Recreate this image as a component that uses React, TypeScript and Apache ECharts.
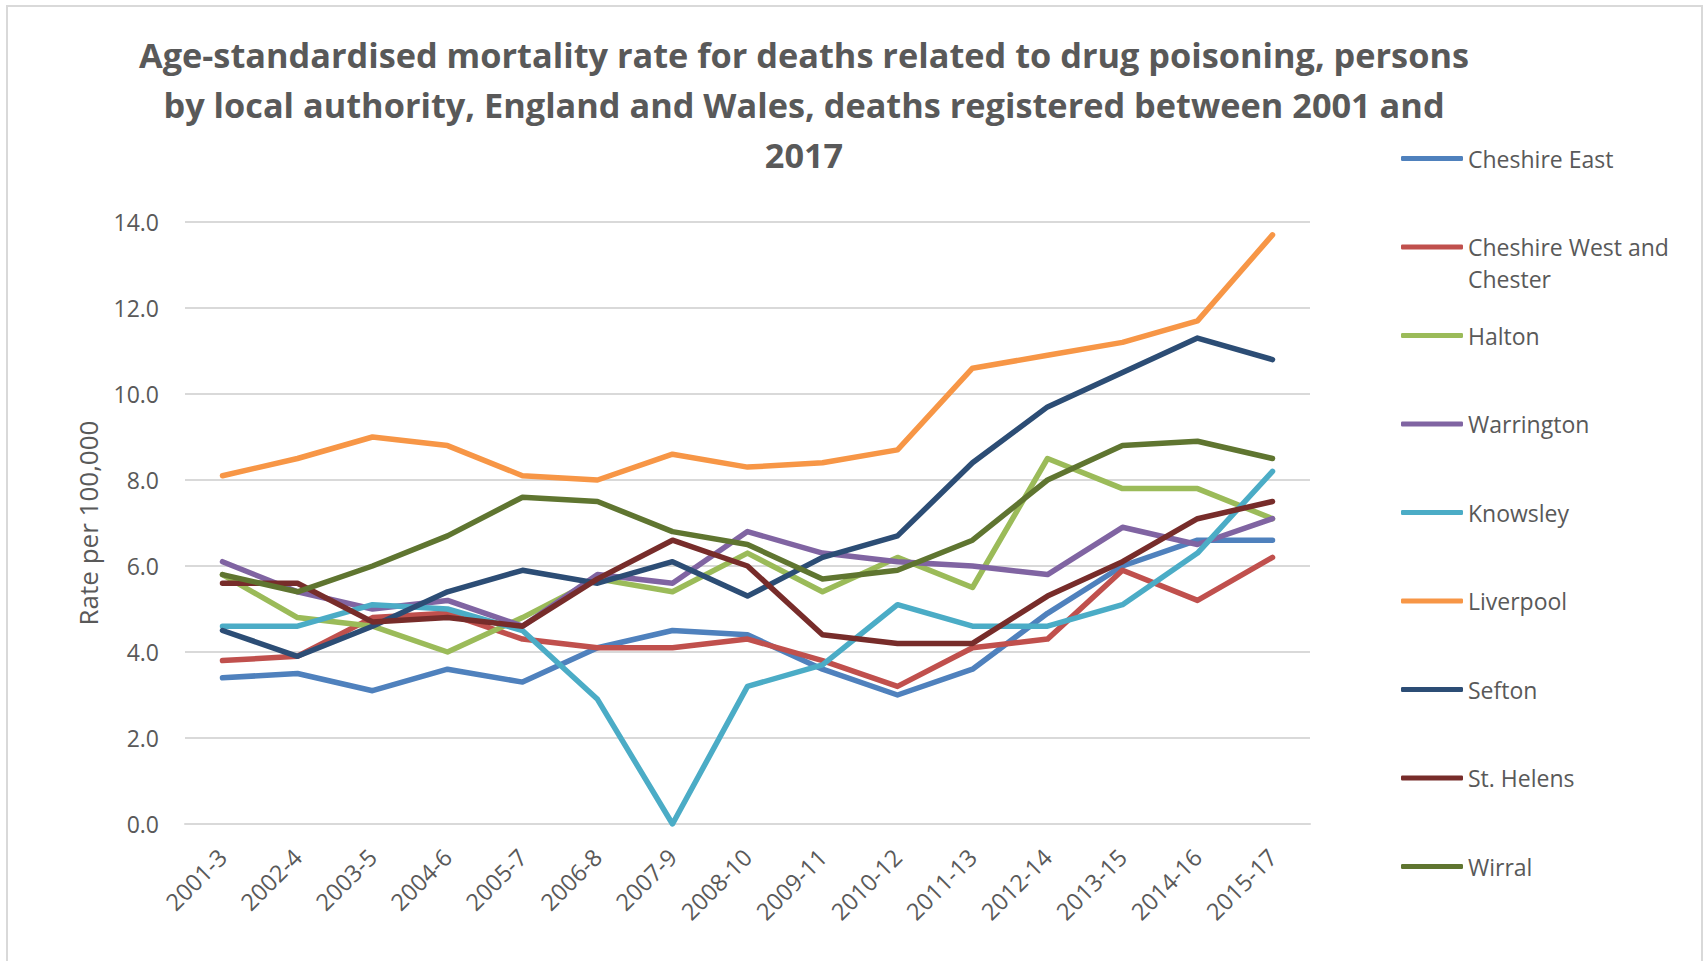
import React, { useEffect, useRef } from "react";
import * as echarts from "echarts";

// Three-year rolling periods of death registration
const periods = [
  "2001-3", "2002-4", "2003-5", "2004-6", "2005-7", "2006-8", "2007-9", "2008-10",
  "2009-11", "2010-12", "2011-13", "2012-14", "2013-15", "2014-16", "2015-17",
];

// Age-standardised rates per 100,000 population
const cheshireEast = [3.4, 3.5, 3.1, 3.6, 3.3, 4.1, 4.5, 4.4, 3.6, 3.0, 3.6, 4.9, 6.0, 6.6, 6.6];
const cheshireWestAndChester = [3.8, 3.9, 4.8, 4.9, 4.3, 4.1, 4.1, 4.3, 3.8, 3.2, 4.1, 4.3, 5.9, 5.2, 6.2];
const halton = [5.8, 4.8, 4.6, 4.0, 4.8, 5.7, 5.4, 6.3, 5.4, 6.2, 5.5, 8.5, 7.8, 7.8, 7.1];
const warrington = [6.1, 5.4, 5.0, 5.2, 4.6, 5.8, 5.6, 6.8, 6.3, 6.1, 6.0, 5.8, 6.9, 6.5, 7.1];
const knowsley = [4.6, 4.6, 5.1, 5.0, 4.5, 2.9, 0.0, 3.2, 3.7, 5.1, 4.6, 4.6, 5.1, 6.3, 8.2];
const liverpool = [8.1, 8.5, 9.0, 8.8, 8.1, 8.0, 8.6, 8.3, 8.4, 8.7, 10.6, 10.9, 11.2, 11.7, 13.7];
const sefton = [4.5, 3.9, 4.6, 5.4, 5.9, 5.6, 6.1, 5.3, 6.2, 6.7, 8.4, 9.7, 10.5, 11.3, 10.8];
const stHelens = [5.6, 5.6, 4.7, 4.8, 4.6, 5.7, 6.6, 6.0, 4.4, 4.2, 4.2, 5.3, 6.1, 7.1, 7.5];
const wirral = [5.8, 5.4, 6.0, 6.7, 7.6, 7.5, 6.8, 6.5, 5.7, 5.9, 6.6, 8.0, 8.8, 8.9, 8.5];

const authorities = [
  { name: "Cheshire East", data: cheshireEast, color: "#4F81BD" },
  { name: "Cheshire West and Chester", data: cheshireWestAndChester, color: "#C0504D" },
  { name: "Halton", data: halton, color: "#9BBB59" },
  { name: "Warrington", data: warrington, color: "#8064A2" },
  { name: "Knowsley", data: knowsley, color: "#4BACC6" },
  { name: "Liverpool", data: liverpool, color: "#F79646" },
  { name: "Sefton", data: sefton, color: "#2C4D75" },
  { name: "St. Helens", data: stHelens, color: "#772C2A" },
  { name: "Wirral", data: wirral, color: "#5F7530" },
];

const yTicks = { min: 0, max: 14, interval: 2 };

const FONT = "'Open Sans', 'DejaVu Sans', sans-serif";
const TEXT_GREY = "#595959";
const GRID_GREY = "#D9D9D9";

export default function App() {
  const ref = useRef<HTMLDivElement>(null);

  useEffect(() => {
    if (!ref.current) return;
    const chart = echarts.init(ref.current, undefined, { renderer: "svg" });

    // One legend block per authority so the entries sit on an even vertical rhythm
    const legendTop0 = 158.5;
    const legendStep = 88.5;
    const lineH = 32;

    const legends = authorities.map((a, i) => {
      const center = legendTop0 + legendStep * i;
      const wrapped = a.name === "Cheshire West and Chester";
      return {
        data: [a.name],
        orient: "vertical",
        left: 1401,
        // wrapped label: a blank leading line keeps the first text line level with the swatch
        top: wrapped ? center - lineH * 1.5 : center - lineH / 2,
        padding: 0,
        itemWidth: 62,
        itemHeight: 5,
        icon: "roundRect",
        selectedMode: false,
        formatter: wrapped ? () => "\u00a0\nCheshire West and\nChester" : undefined,
        textStyle: {
          fontFamily: FONT,
          fontSize: 23,
          color: TEXT_GREY,
          lineHeight: lineH,
        },
      };
    });

    chart.setOption({
      animation: false,
      backgroundColor: "#ffffff",
      title: {
        text:
          "Age-standardised mortality rate for deaths related to drug poisoning, persons\nby local authority, England and Wales, deaths registered between 2001 and\n2017",
        left: 804,
        top: 29,
        padding: 0,
        textAlign: "center",
        textStyle: {
          fontFamily: FONT,
          fontWeight: "bold",
          fontSize: 34.3,
          lineHeight: 50,
          color: TEXT_GREY,
        },
      },
      graphic: [
        {
          type: "rect",
          silent: true,
          shape: { x: 7, y: 6, width: 1695, height: 1000 },
          style: { fill: "none", stroke: GRID_GREY, lineWidth: 2 },
        },
      ],
      legend: legends,
      grid: { left: 185, right: 393, top: 222, bottom: 137, containLabel: false },
      xAxis: {
        type: "category",
        data: periods,
        boundaryGap: true,
        axisTick: { show: false },
        axisLine: { show: true, lineStyle: { color: GRID_GREY, width: 2 } },
        axisLabel: {
          rotate: 45,
          margin: 29,
          fontFamily: FONT,
          fontSize: 23.5,
          color: TEXT_GREY,
          interval: 0,
        },
        splitLine: { show: false },
      },
      yAxis: {
        type: "value",
        min: yTicks.min,
        max: yTicks.max,
        interval: yTicks.interval,
        name: "Rate per 100,000",
        nameLocation: "middle",
        nameGap: 84,
        nameTextStyle: { fontFamily: FONT, fontSize: 26, color: TEXT_GREY },
        axisLine: { show: false },
        axisTick: { show: false },
        axisLabel: {
          margin: 26,
          fontFamily: FONT,
          fontSize: 23,
          color: TEXT_GREY,
          formatter: (v: number) => v.toFixed(1),
        },
        splitLine: { lineStyle: { color: GRID_GREY, width: 2 } },
      },
      series: authorities.map((a) => ({
        name: a.name,
        type: "line",
        data: a.data,
        color: a.color,
        symbol: "none",
        showSymbol: false,
        lineStyle: { width: 5.5, color: a.color, cap: "round", join: "round" },
      })),
    });

    return () => chart.dispose();
  }, []);

  return (
    <div
      ref={ref}
      style={{ position: "absolute", left: 0, top: 0, width: 1703, height: 961 }}
    />
  );
}
